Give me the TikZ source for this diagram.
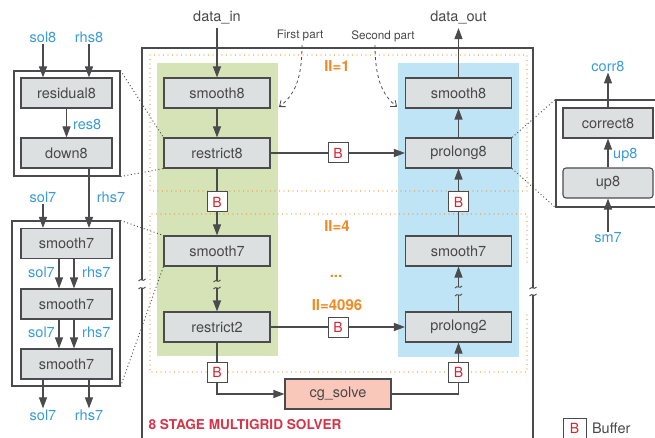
\documentclass[tikz,border=0pt]{standalone}
\usepackage{fontspec}
\setmainfont{TeX Gyre Heros}
\usetikzlibrary{arrows.meta,positioning}
\definecolor{linegray}{RGB}{75,75,78}
\definecolor{txtgray}{RGB}{72,72,72}
\definecolor{boxgray}{RGB}{221,224,225}
\definecolor{colgreen}{RGB}{214,227,183}
\definecolor{colblue}{RGB}{191,228,245}
\definecolor{cgred}{RGB}{250,199,187}
\definecolor{iiorange}{RGB}{240,138,36}
\definecolor{bufred}{RGB}{212,36,48}
\definecolor{titlered}{RGB}{214,52,72}
\definecolor{lblblue}{RGB}{58,154,214}
\tikzset{
  stage/.style={draw=linegray, fill=boxgray, line width=1.1pt, minimum width=106pt,
    minimum height=30pt, inner sep=0pt, text=txtgray},
  sub/.style={stage, minimum width=91pt},
  buf/.style={draw=linegray, fill=white, line width=1pt, minimum width=20pt,
    minimum height=20pt, inner sep=0pt, text=bufred, font=\fontsize{14}{16}\selectfont},
  lbl/.style={text=lblblue, inner sep=1pt},
  flow/.style={draw=linegray, line width=1.1pt, -{Triangle[width=8pt,length=11pt]}},
  wire/.style={draw=linegray, line width=1.1pt},
  zoomlink/.style={draw=linegray, line width=0.9pt, dash pattern=on 1pt off 2.5pt},
  callout/.style={draw=linegray, line width=1.1pt, inner sep=0pt},
  iilbl/.style={text=iiorange, font=\bfseries\fontsize{15}{17}\selectfont},
  iibox/.style={draw=iiorange, line width=1.3pt, line cap=round, dash pattern=on 0pt off 4.5pt},
  hint/.style={draw=linegray, line width=0.8pt, dashed, -{Straight Barb[length=5pt,width=8pt]}},
  brk/.pic={\draw[linegray, line width=0.9pt] (-3.5,1) .. controls (-1,-2.5) and (1,2.5) .. (3.5,-1);}
}
\begin{document}
\begin{tikzpicture}[x=1pt,y=-1pt, font=\fontsize{14.5}{16}\selectfont]
\useasboundingbox (0,0) rectangle (655,438);
% stage columns and frame
\fill[colgreen] (157,63) rectangle (278,356);
\fill[colblue] (398,63) rectangle (519,357);
\draw[wire] (142,438) -- (142,288) (142,280) -- (142,48) -- (533,48) -- (533,288)
  (533,295) -- (533,438);
\path (142,280) pic{brk} (142,288) pic{brk} (533,288) pic{brk} (533,295) pic{brk};
\draw[iibox] (150,55) rectangle (527,191);
\draw[iibox] (527,262) -- (527,214) -- (150,214) -- (150,372) -- (527,372) -- (527,312);
\node[iilbl] (ii1) at (337,66) {II=1};
\node[iilbl] (ii4) at (337,226) {II=4};
\node[iilbl] (iidots) at (336,276) {...};
\node[iilbl] (ii4096) at (337,305) {II=4096};

% main pipeline
\node[text=txtgray] (din) at (217,18) {data\_in};
\node[text=txtgray] (dout) at (458.5,18) {data\_out};
\node[stage] (sm8a) at (217,93) {smooth8};
\node[stage] (rs8) at (217,153) {restrict8};
\node[buf] (bd8) at (217,202) {B};
\node[stage] (sm7a) at (217,251) {smooth7};
\node[stage] (rs2) at (217,327) {restrict2};
\node[buf] (bd2) at (217,372) {B};
\node[stage, fill=cgred] (cg) at (338,394) {cg\_solve};
\node[buf] (bu2) at (458.5,372) {B};
\node[stage] (pl2) at (458.5,327) {prolong2};
\node[stage] (sm7b) at (458.5,251) {smooth7};
\node[buf] (bu8) at (458.5,202) {B};
\node[stage] (pl8) at (458.5,153) {prolong8};
\node[stage] (sm8b) at (458.5,93) {smooth8};
\node[buf] (bh8) at (338,153) {B};
\node[buf] (bh2) at (338,327) {B};
\coordinate (cutA1) at (217,281);
\coordinate (cutA2) at (217,288);
\coordinate (cutB1) at (458.5,295);
\coordinate (cutB2) at (458.5,287);

\draw[flow] (din) -- (sm8a);
\draw[flow] (sm8a) -- (rs8);
\draw[wire] (rs8) -- (bd8);
\draw[flow] (bd8) -- (sm7a);
\draw[wire] (sm7a) -- (cutA1);
\draw[flow] (cutA2) -- (rs2);
\path (cutA1) pic{brk} (cutA2) pic{brk};
\draw[wire] (rs2) -- (bd2);
\draw[flow] (bd2) |- (cg);
\draw[wire] (cg) -| (bu2);
\draw[flow] (bu2) -- (pl2);
\draw[wire] (pl2) -- (cutB1);
\draw[flow] (cutB2) -- (sm7b);
\path (cutB1) pic{brk} (cutB2) pic{brk};
\draw[wire] (sm7b) -- (bu8);
\draw[flow] (bu8) -- (pl8);
\draw[flow] (pl8) -- (sm8b);
\draw[flow] (sm8b) -- (dout);
\draw[wire] (rs8) -- (bh8);
\draw[flow] (bh8) -- (pl8);
\draw[wire] (rs2) -- (bh2);
\draw[flow] (bh2) -- (pl2);

% part hints
\node[text=txtgray, font=\fontsize{11.7}{13}\selectfont] (fpart) at (300,36) {First part};
\node[text=txtgray, font=\fontsize{11.7}{13}\selectfont] (spart) at (383,36) {Second part};
\coordinate (fpTip) at (279,107);
\coordinate (spTip) at (397,107);
\draw[hint] ([xshift=2pt]fpart.south) .. controls (302,82) and (293,96) .. (fpTip);
\draw[hint] ([xshift=-8pt]spart.south) .. controls (375,82) and (384,96) .. (spTip);

% restrict8 detail
\node[callout, minimum width=106pt, minimum height=105pt] (zoomR8) at (67,123.5) {};
\node[sub] (resid8) at (66.5,93) {residual8};
\node[sub] (down8) at (66.5,153) {down8};
\node[lbl] (sol8) at (43,37) {sol8};
\node[lbl] (rhs8) at (89,37) {rhs8};
\node[lbl, anchor=west] (lres8) at (72,124) {res8};
\draw[flow] (sol8) -- (sol8 |- resid8.north);
\draw[flow] (rhs8) -- (rhs8 |- resid8.north);
\draw[flow] (resid8) -- (down8);

% smooth7 detail
\node[callout, minimum width=108pt, minimum height=165pt] (zoomS7) at (66,303.5) {};
\node[sub] (s7a) at (66.5,243.5) {smooth7};
\node[sub] (s7b) at (66.5,304) {smooth7};
\node[sub] (s7c) at (66.5,364) {smooth7};
\node[lbl] (isol7) at (43,197) {sol7};
\node[lbl] (irhs7) at (111,197) {rhs7};
\draw[flow] (isol7) -- (isol7 |- s7a.north);
\draw[flow] (rhs8 |- down8.south) -- (rhs8 |- s7a.north);
\foreach \a/\b/\y in {s7a/s7b/272, s7b/s7c/332} {
  \draw[flow] ([xshift=-7.5pt]\a.south) -- ([xshift=-7.5pt]\b.north);
  \draw[flow] ([xshift=7.5pt]\a.south) -- ([xshift=7.5pt]\b.north);
  \node[lbl, anchor=east] at (56,\y) {sol7};
  \node[lbl, anchor=west] at (81,\y) {rhs7};
}
\node[lbl] (osol7) at (43,415) {sol7};
\node[lbl] (orhs7) at (89,415) {rhs7};
\draw[flow] (osol7 |- s7c.south) -- (osol7);
\draw[flow] (orhs7 |- s7c.south) -- (orhs7);

% prolong8 detail
\node[callout, minimum width=104pt, minimum height=107pt] (zoomP8) at (608,153.5) {};
\node[sub, minimum width=90pt] (cor8) at (608,123) {correct8};
\node[sub, minimum width=90pt, rounded corners=3pt] (up8b) at (608,183) {up8};
\node[lbl] (lcorr8) at (608,66) {corr8};
\node[lbl, anchor=west] (lup8) at (612,155) {up8};
\node[lbl] (lsm7) at (608,238) {sm7};
\draw[flow] (cor8) -- (lcorr8);
\draw[flow] (up8b) -- (cor8);
\draw[flow] (lsm7) -- (up8b);

% zoom links
\draw[zoomlink] (zoomR8.north east) -- (rs8.north west);
\draw[zoomlink] (zoomR8.south east) -- (rs8.south west);
\draw[zoomlink] (zoomS7.north east) -- (sm7a.north west);
\draw[zoomlink] (zoomS7.south east) -- (sm7a.south west);
\draw[zoomlink] (pl8.north east) -- (zoomP8.north west);
\draw[zoomlink] (pl8.south east) -- (zoomP8.south west);

% title and legend
\node[text=titlered, font=\bfseries\fontsize{13.6}{15}\selectfont, anchor=west] (title)
  at (145,425) {8 STAGE MULTIGRID SOLVER};
\node[buf, minimum width=23pt] (legB) at (574.5,428) {B};
\node[text=txtgray, right=2pt of legB] (legT) {Buffer};
\end{tikzpicture}
\end{document}
